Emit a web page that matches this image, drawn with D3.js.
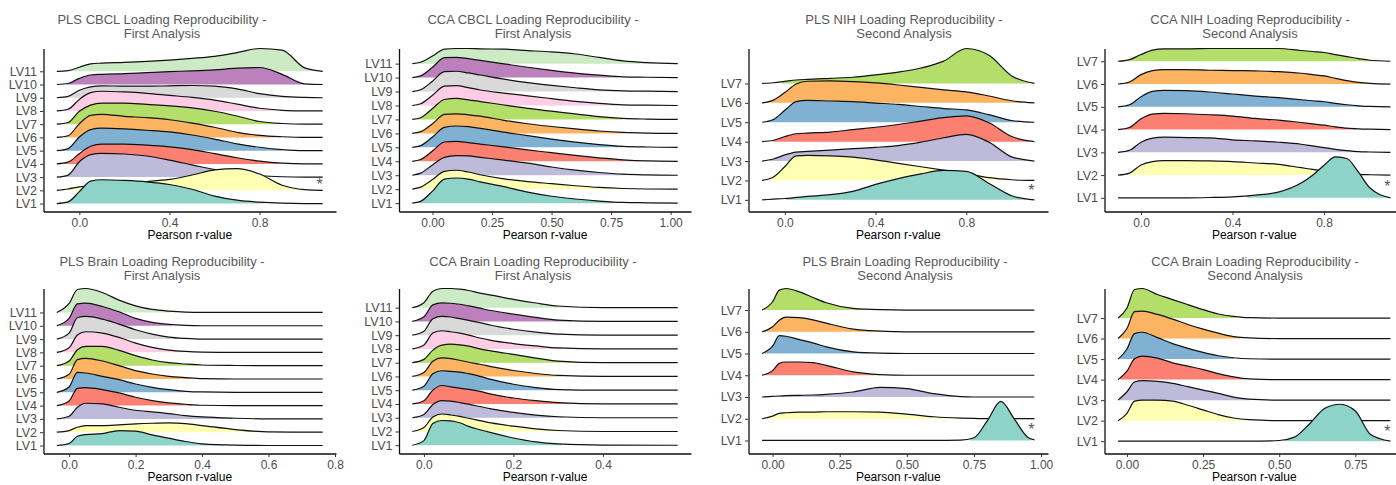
<!DOCTYPE html>
<html lang="en">
<head>
    <meta charset="UTF-8">
    <title>Loading Reproducibility Ridgelines</title>
    <script src="https://cdn.jsdelivr.net/npm/d3@7"></script>
    <style>
        body { margin: 0; background: #fff; }
        svg { display: block; }
    </style>
</head>
<body>
    <div id="vis"></div>
    <script>

        // ---- data: density of Pearson r per latent variable ----
        var lvNames = ["LV1", "LV2", "LV3", "LV4", "LV5", "LV6", "LV7", "LV8", "LV9", "LV10", "LV11"];

        var titles = [
            ["PLS CBCL Loading Reproducibility -", "First Analysis"],
            ["CCA CBCL Loading Reproducibility -", "First Analysis"],
            ["PLS NIH Loading Reproducibility -", "Second Analysis"],
            ["CCA NIH Loading Reproducibility -", "Second Analysis"],
            ["PLS Brain Loading Reproducibility -", "First Analysis"],
            ["CCA Brain Loading Reproducibility -", "First Analysis"],
            ["PLS Brain Loading Reproducibility -", "Second Analysis"],
            ["CCA Brain Loading Reproducibility -", "Second Analysis"]
        ];

        // x tick labels for each panel
        var ticksA = [0, 0.4, 0.8];
        var ticksB = [0, 0.25, 0.5, 0.75, 1.0];
        var ticksC = [0, 0.2, 0.4, 0.6, 0.8];
        var ticksD = [0, 0.2, 0.4];
        var ticksE = [0, 0.25, 0.5, 0.75];

        // LV flagged with an asterisk (null = none)
        var starRows = [2, null, 1, 1, null, null, 1, 1];

        // PLS CBCL - first analysis
        var plsCbclFirstGrid = [-0.1, -0.05, 0, 0.05, 0.1, 0.2, 0.3, 0.4, 0.5, 0.6, 0.7, 0.8, 0.9, 1.0, 1.08];
        var plsCbclFirst = [
            [0, 5, 35, 66, 70, 68, 64, 56, 42, 22, 10, 4, 1, 0, 0],
            [0, 4, 10, 14, 18, 22, 26, 32, 45, 60, 64, 48, 15, 2, 0],
            [0, 6, 45, 66, 70, 68, 62, 50, 36, 22, 10, 4, 1, 0, 0],
            [0, 5, 30, 52, 58, 58, 55, 50, 42, 30, 18, 8, 2, 0, 0],
            [0, 6, 40, 62, 66, 64, 60, 55, 46, 34, 20, 10, 3, 0, 0],
            [0, 5, 40, 65, 68, 62, 58, 52, 42, 30, 15, 6, 2, 0, 0],
            [0, 5, 38, 56, 62, 62, 58, 54, 48, 38, 24, 8, 2, 0, 0],
            [0, 5, 34, 54, 58, 56, 52, 46, 40, 32, 20, 8, 2, 0, 0],
            [0, 4, 22, 32, 35, 34, 34, 35, 36, 34, 26, 12, 4, 1, 0],
            [0, 3, 18, 28, 30, 32, 35, 38, 40, 43, 48, 50, 30, 2, 0],
            [0, 2, 12, 22, 24, 26, 29, 33, 38, 44, 55, 67, 62, 10, 0]
        ];

        // CCA CBCL - first analysis
        var ccaCbclFirstGrid = [-0.085, -0.05, 0, 0.05, 0.1, 0.15, 0.2, 0.3, 0.4, 0.5, 0.6, 0.7, 0.8, 0.9, 1.03];
        var ccaCbclFirst = [
            [0, 5, 35, 70, 73, 70, 62, 48, 32, 20, 12, 6, 2, 1, 0],
            [0, 6, 28, 52, 55, 50, 42, 30, 22, 16, 10, 5, 2, 0.5, 0],
            [0, 6, 30, 52, 57, 56, 52, 44, 35, 24, 15, 8, 3, 1, 0],
            [0, 5, 30, 56, 58, 54, 50, 42, 33, 25, 17, 10, 4, 1, 0],
            [0, 5, 30, 58, 62, 60, 55, 44, 34, 24, 15, 8, 3, 1, 0],
            [0, 5, 28, 55, 57, 54, 50, 38, 28, 20, 13, 7, 3, 1, 0],
            [0, 5, 32, 58, 61, 57, 52, 42, 32, 24, 16, 8, 3, 1, 0],
            [0, 5, 30, 56, 58, 52, 45, 36, 28, 20, 12, 6, 2, 1, 0],
            [0, 5, 30, 58, 59, 54, 48, 36, 26, 18, 11, 5, 2, 1, 0],
            [0, 5, 30, 58, 59, 55, 50, 40, 30, 21, 13, 7, 2, 1, 0],
            [0, 4, 22, 42, 44, 44, 43, 42, 38, 34, 28, 18, 8, 3, 0]
        ];

        // PLS NIH - second analysis
        var plsNihSecondGrid = [-0.1, -0.05, 0, 0.05, 0.1, 0.2, 0.3, 0.4, 0.5, 0.6, 0.7, 0.8, 0.9, 1.0, 1.1];
        var plsNihSecond = [
            [0, 2, 4, 7, 10, 15, 25, 45, 62, 76, 86, 83, 48, 12, 0],
            [0, 10, 40, 72, 73, 72, 68, 60, 50, 40, 30, 20, 8, 2, 0],
            [0, 6, 18, 26, 28, 32, 36, 40, 45, 55, 68, 78, 55, 12, 0],
            [0, 4, 15, 23, 25, 28, 35, 42, 50, 60, 70, 75, 55, 15, 0],
            [0, 8, 35, 60, 64, 62, 60, 56, 52, 46, 40, 36, 22, 5, 0],
            [0, 8, 30, 55, 63, 64, 62, 58, 52, 45, 38, 32, 20, 6, 0],
            [0, 2, 6, 10, 12, 15, 18, 25, 33, 45, 65, 102, 82, 22, 0]
        ];

        // CCA NIH - second analysis
        var ccaNihSecondGrid = [-0.1, -0.05, 0, 0.05, 0.1, 0.2, 0.3, 0.4, 0.5, 0.6, 0.7, 0.75, 0.8, 0.85, 0.9, 0.95, 1.0, 1.09];
        var ccaNihSecond = [
            [0, 0, 0, 0, 0, 0, 1, 3, 8, 17, 44, 67, 97, 122, 117, 77, 30, 0],
            [0, 6, 30, 40, 43, 43, 42, 40, 36, 32, 22, 17, 12, 8, 4, 2, 1, 0],
            [0, 6, 30, 42, 45, 44, 43, 37, 34, 30, 24, 19, 14, 9, 5, 2, 1, 0],
            [0, 6, 32, 46, 48, 47, 44, 40, 33, 28, 21, 17, 13, 8, 4, 2, 1, 0],
            [0, 6, 30, 46, 49, 48, 44, 38, 32, 27, 21, 18, 15, 10, 6, 3, 1, 0],
            [0, 6, 28, 40, 43, 43, 41, 40, 39, 37, 32, 28, 24, 17, 10, 5, 2, 0],
            [0, 5, 20, 33, 37, 37, 38, 38, 38, 38, 32, 29, 26, 20, 14, 8, 3, 0]
        ];

        // PLS Brain - first analysis
        var plsBrainFirstGrid = [-0.037, 0, 0.025, 0.05, 0.1, 0.15, 0.2, 0.25, 0.3, 0.35, 0.4, 0.5, 0.6, 0.763];
        var plsBrainFirst = [
            [0, 6, 28, 33, 36, 45, 43, 32, 22, 12, 5, 1, 0, 0],
            [0, 5, 15, 20, 20, 22, 25, 27, 28, 26, 20, 8, 1, 0],
            [0, 8, 35, 47, 45, 35, 26, 21, 16, 10, 6, 2, 0, 0],
            [0, 14, 52, 54, 48, 38, 25, 15, 8, 4, 1, 0, 0, 0],
            [0, 16, 60, 58, 48, 38, 25, 15, 8, 3, 1, 0, 0, 0],
            [0, 14, 58, 62, 54, 40, 25, 15, 8, 4, 1, 0, 0, 0],
            [0, 14, 48, 58, 58, 46, 30, 17, 9, 5, 2, 0.5, 0, 0],
            [0, 14, 52, 62, 58, 45, 28, 15, 7, 3, 1, 0, 0, 0],
            [0, 18, 64, 68, 60, 45, 28, 15, 6, 2, 0, 0, 0, 0],
            [0, 22, 66, 68, 58, 42, 22, 10, 4, 1, 0, 0, 0, 0],
            [0, 27, 69, 72, 60, 37, 20, 9, 4, 1, 0, 0, 0, 0]
        ];

        // CCA Brain - first analysis
        var ccaBrainFirstGrid = [-0.026, 0, 0.02, 0.04, 0.06, 0.08, 0.1, 0.125, 0.15, 0.2, 0.25, 0.3, 0.4, 0.567];
        var ccaBrainFirst = [
            [0, 14, 66, 75, 74, 68, 57, 47, 38, 22, 10, 4, 0.5, 0],
            [0, 12, 44, 53, 50, 46, 40, 33, 26, 16, 8, 3, 0, 0],
            [0, 10, 40, 52, 50, 46, 41, 34, 27, 16, 8, 3, 0, 0],
            [0, 10, 42, 56, 52, 48, 44, 38, 30, 18, 10, 4, 0, 0],
            [0, 12, 50, 59, 57, 55, 50, 42, 33, 18, 8, 2, 0, 0],
            [0, 12, 46, 56, 54, 49, 43, 37, 30, 18, 9, 3, 0, 0],
            [0, 10, 38, 53, 56, 54, 50, 42, 36, 25, 14, 5, 0, 0],
            [0, 12, 48, 55, 52, 48, 42, 33, 26, 16, 9, 3, 0, 0],
            [0, 12, 50, 57, 55, 50, 45, 38, 30, 18, 9, 3, 0, 0],
            [0, 14, 50, 56, 55, 52, 47, 40, 33, 22, 12, 4, 0, 0],
            [0, 15, 50, 58, 58, 56, 52, 44, 38, 25, 14, 5, 0, 0]
        ];

        // PLS Brain - second analysis
        var plsBrainSecondGrid = [-0.039, 0, 0.025, 0.05, 0.1, 0.15, 0.2, 0.3, 0.4, 0.5, 0.6, 0.7, 0.75, 0.8, 0.85, 0.9, 0.95, 0.975];
        var plsBrainSecond = [
            [0, 0, 0, 0, 0, 0, 0, 0, 0, 0, 0, 1, 8, 60, 118, 65, 10, 2],
            [0, 8, 16, 18, 20, 20, 21, 21, 20, 14, 6, 2, 1, 0, 0, 0, 0, 0],
            [0, 2, 3, 4, 5, 6, 8, 15, 29, 25, 10, 1, 0, 0, 0, 0, 0, 0],
            [0, 14, 36, 40, 40, 38, 30, 10, 2, 0, 0, 0, 0, 0, 0, 0, 0, 0],
            [0, 22, 54, 52, 42, 32, 20, 5, 1, 0, 0, 0, 0, 0, 0, 0, 0, 0],
            [0, 15, 35, 44, 43, 36, 26, 8, 2, 0, 0, 0, 0, 0, 0, 0, 0, 0],
            [0, 25, 60, 65, 55, 38, 22, 5, 1, 0, 0, 0, 0, 0, 0, 0, 0, 0]
        ];

        // CCA Brain - second analysis
        var ccaBrainSecondGrid = [-0.029, 0, 0.025, 0.05, 0.1, 0.15, 0.2, 0.25, 0.3, 0.35, 0.4, 0.5, 0.55, 0.6, 0.65, 0.7, 0.75, 0.8, 0.865];
        var ccaBrainSecond = [
            [0, 0, 0, 0, 0, 0, 0, 0, 0, 0, 0, 2, 12, 52, 98, 110, 90, 20, 0],
            [0, 22, 58, 61, 61, 58, 46, 32, 18, 8, 3, 0, 0, 0, 0, 0, 0, 0, 0],
            [0, 25, 54, 58, 56, 50, 40, 30, 20, 9, 3, 0, 0, 0, 0, 0, 0, 0, 0],
            [0, 25, 62, 70, 64, 50, 40, 30, 18, 8, 2, 0, 0, 0, 0, 0, 0, 0, 0],
            [0, 30, 76, 80, 64, 46, 32, 20, 10, 4, 1, 0, 0, 0, 0, 0, 0, 0, 0],
            [0, 30, 80, 82, 72, 58, 42, 28, 16, 6, 2, 0, 0, 0, 0, 0, 0, 0, 0],
            [0, 30, 85, 88, 70, 55, 40, 25, 12, 5, 1, 0, 0, 0, 0, 0, 0, 0, 0]
        ];

        // ---- layout ----
        var width = 1396;
        var height = 485;
        var fontFamily = "'Liberation Sans', Arial, Helvetica, sans-serif";
        var ridgeScale = 1.8;   // tallest ridge spans 1.8 rows

        var cols = [
            {left: 43.5, right: 336},
            {left: 399, right: 691},
            {left: 748.5, right: 1048},
            {left: 1104.5, right: 1404}
        ];
        var rows = [
            {top: 48.5, bottom: 211.5, title: 23.5},
            {top: 288.5, bottom: 453.5, title: 265.5}
        ];
        var titleX = [162, 533, 904, 1250, 162, 533, 905, 1255];

        var panels = [
            {grid: plsCbclFirstGrid, dens: plsCbclFirst, ticks: ticksA, fmt: ".1f"},
            {grid: ccaCbclFirstGrid, dens: ccaCbclFirst, ticks: ticksB, fmt: ".2f"},
            {grid: plsNihSecondGrid, dens: plsNihSecond, ticks: ticksA, fmt: ".1f"},
            {grid: ccaNihSecondGrid, dens: ccaNihSecond, ticks: ticksA, fmt: ".1f"},
            {grid: plsBrainFirstGrid, dens: plsBrainFirst, ticks: ticksC, fmt: ".1f"},
            {grid: ccaBrainFirstGrid, dens: ccaBrainFirst, ticks: ticksD, fmt: ".1f"},
            {grid: plsBrainSecondGrid, dens: plsBrainSecond, ticks: ticksB, fmt: ".2f"},
            {grid: ccaBrainSecondGrid, dens: ccaBrainSecond, ticks: ticksE, fmt: ".2f"}
        ];

        var colors = d3.schemeSet3;

        var svg = d3.select("#vis")
            .append("svg")
            .attr("width", width)
            .attr("height", height)
            .style("font-family", fontFamily);

        var defs = svg.append("defs");

        // where the density first / last reaches the fill threshold
        function crossLeft(grid, dens, t) {
            if (dens[0] >= t) return grid[0];
            for (var j = 1; j < grid.length; j++) {
                if (dens[j] >= t) {
                    var f = (t - dens[j - 1]) / (dens[j] - dens[j - 1]);
                    return grid[j - 1] + f * (grid[j] - grid[j - 1]);
                }
            }
            return grid[0];
        }
        function crossRight(grid, dens, t) {
            var n = grid.length;
            if (dens[n - 1] >= t) return grid[n - 1];
            for (var j = n - 2; j >= 0; j--) {
                if (dens[j] >= t) {
                    var f = (t - dens[j + 1]) / (dens[j] - dens[j + 1]);
                    return grid[j + 1] + f * (grid[j] - grid[j + 1]);
                }
            }
            return grid[n - 1];
        }

        panels.forEach(function(p, k) {
            var c = cols[k % 4];
            var r = rows[Math.floor(k / 4)];
            var n = p.dens.length;
            var g = svg.append("g");

            var ext = d3.extent(p.grid);
            var pad = (ext[1] - ext[0]) * 0.05;
            var x = d3.scaleLinear()
                .domain([ext[0] - pad, ext[1] + pad])
                .range([c.left, c.right]);

            var dMax = d3.max(p.dens, function(d) { return d3.max(d); });
            var h = d3.scaleLinear().domain([0, dMax]).range([0, ridgeScale]);
            var yTop = d3.max(p.dens, function(d, i) { return i + 1 + h(d3.max(d)); });
            var y = d3.scaleLinear()
                .domain([0.4, yTop])
                .range([r.bottom, r.top]);

            // draw top ridge first so lower ridges overlap it
            for (var i = n - 1; i >= 0; i--) {
                var dens = p.dens[i];
                var base = i + 1;
                var pts = p.grid.map(function(v, j) { return {x: v, d: dens[j]}; });

                var area = d3.area()
                    .curve(d3.curveMonotoneX)
                    .x(function(d) { return x(d.x); })
                    .y0(y(base))
                    .y1(function(d) { return y(base + h(d.d)); });
                var line = d3.line()
                    .curve(d3.curveMonotoneX)
                    .x(function(d) { return x(d.x); })
                    .y(function(d) { return y(base + h(d.d)); });

                var thr = 0.05 * d3.max(dens);
                var lo = crossLeft(p.grid, dens, thr);
                var hi = crossRight(p.grid, dens, thr);
                var clipId = "clip-" + k + "-" + i;
                defs.append("clipPath").attr("id", clipId)
                    .append("rect")
                    .attr("x", x(lo))
                    .attr("y", r.top - 30)
                    .attr("width", x(hi) - x(lo))
                    .attr("height", r.bottom - r.top + 30);

                g.append("path")
                    .attr("d", area(pts))
                    .attr("fill", colors[i])
                    .attr("clip-path", "url(#" + clipId + ")");
                g.append("path")
                    .attr("d", line(pts))
                    .attr("fill", "none")
                    .attr("stroke", "#111")
                    .attr("stroke-width", 1.2);
            }

            // axes
            var yAxis = d3.axisLeft(y)
                .tickValues(d3.range(1, n + 1))
                .tickFormat(function(v) { return lvNames[v - 1]; })
                .tickSize(3.5)
                .tickPadding(3)
                .tickSizeOuter(0);
            var xAxis = d3.axisBottom(x)
                .tickValues(p.ticks)
                .tickFormat(d3.format(p.fmt))
                .tickSize(3.5)
                .tickPadding(3)
                .tickSizeOuter(0);

            var ya = g.append("g")
                .attr("transform", "translate(" + c.left + ",0)")
                .call(yAxis);
            var xa = g.append("g")
                .attr("transform", "translate(0," + r.bottom + ")")
                .call(xAxis);

            ya.attr("font-size", 12.5);
            xa.attr("font-size", 12);
            [ya, xa].forEach(function(a) {
                a.attr("font-family", fontFamily);
                a.select(".domain").attr("stroke", "#111").attr("stroke-width", 1.3);
                a.selectAll(".tick line").attr("stroke", "#333").attr("stroke-width", 1);
                a.selectAll(".tick text").attr("fill", "#4d4d4d");
            });

            // axis title
            g.append("text")
                .attr("x", (c.left + c.right) / 2)
                .attr("y", r.bottom + 27)
                .attr("text-anchor", "middle")
                .attr("font-size", 12)
                .attr("fill", "#000")
                .text("Pearson r-value");

            // panel title
            var t = g.append("text")
                .attr("text-anchor", "middle")
                .attr("font-size", 13)
                .attr("fill", "#595959");
            titles[k].forEach(function(s, li) {
                t.append("tspan")
                    .attr("x", titleX[k])
                    .attr("y", r.title + li * 14)
                    .text(s);
            });

            if (starRows[k] !== null) {
                g.append("text")
                    .attr("x", x(ext[1]) - 3)
                    .attr("y", y(starRows[k] + 0.6) + 8)
                    .attr("text-anchor", "middle")
                    .attr("font-size", 16)
                    .attr("fill", "#555")
                    .text("*");
            }
        });

    </script>
</body>
</html>
